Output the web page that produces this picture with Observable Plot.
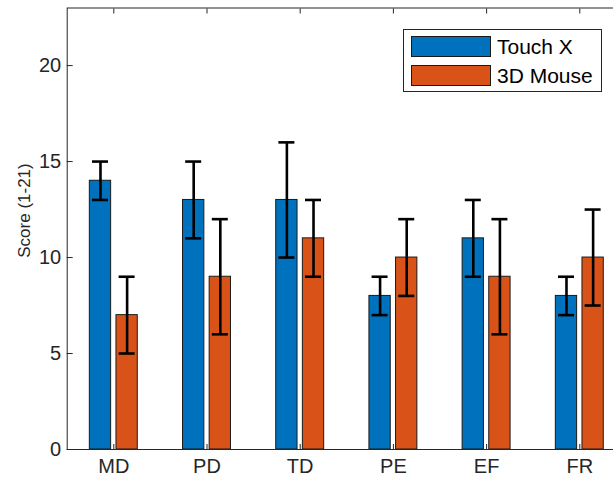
<!DOCTYPE html>
<html>
<head>
<meta charset="utf-8">
<script src="https://cdn.jsdelivr.net/npm/d3@7"></script>
<script src="https://cdn.jsdelivr.net/npm/@observablehq/plot@0.6"></script>
<style>
  body { margin: 0; background: white; }
  #wrap { position: relative; width: 613px; height: 480px; overflow: hidden; background: white; }
  #wrap svg { overflow: hidden; }
  .legend { position: absolute; left: 403px; top: 29px; width: 199px; height: 63px; border: 1px solid #262626; background: white; box-sizing: border-box; font-family: "Liberation Sans", Arial, sans-serif; font-size: 21px; color: #000; }
  .legend .row { position: absolute; left: 7px; height: 21px; display: flex; align-items: center; }
  .legend .sw { width: 80px; height: 21px; box-sizing: border-box; border: 1px solid #1a1a1a; margin-right: 6px; }
</style>
</head>
<body>
<div id="wrap"></div>
<script>
const categories = ["MD", "PD", "TD", "PE", "EF", "FR"];
const seriesNames = ["Touch X", "3D Mouse"];
const seriesColors = ["#0072BD", "#D95319"];
const touchX = [14, 13, 13, 8, 11, 8];
const touchXLow = [13, 11, 10, 7, 9, 7];
const touchXHigh = [15, 15, 16, 9, 13, 9];
const mouse3D = [7, 9, 11, 10, 9, 10];
const mouse3DLow = [5, 6, 9, 8, 6, 7.5];
const mouse3DHigh = [9, 12, 13, 12, 12, 12.5];
const yTicks = [0, 5, 10, 15, 20];
const yLabel = "Score (1-21)";

const groupOffset = [-0.1429, 0.1429];
const barHalf = 0.1143;

const rows = [];
categories.forEach((c, i) => {
  [[touchX, touchXLow, touchXHigh], [mouse3D, mouse3DLow, mouse3DHigh]].forEach((s, k) => {
    const xc = i + 1 + groupOffset[k];
    rows.push({cat: c, series: seriesNames[k], xc, x1: xc - barHalf, x2: xc + barHalf,
      value: s[0][i], low: s[1][i], high: s[2][i], color: seriesColors[k]});
  });
});

const font = '"Liberation Sans", Arial, sans-serif';
const chart = Plot.plot({
  width: 613,
  height: 480,
  marginLeft: 66.7,
  marginRight: -12.9,
  marginTop: 7.5,
  marginBottom: 31,
  style: {fontFamily: font, fontSize: "20px", color: "#262626", background: "white"},
  x: {domain: [0.5, 6.5]},
  y: {domain: [0, 23]},
  marks: [
    Plot.rect(rows, {x1: "x1", x2: "x2", y1: 0, y2: "value", fill: "color", stroke: "#1a1a1a", strokeWidth: 1}),
    Plot.ruleX(rows, {x: "xc", y1: "low", y2: "high", stroke: "#000", strokeWidth: 2.6}),
    Plot.ruleY(rows, {y: "low", x1: "xc", x2: "xc", insetLeft: -8, insetRight: -8, stroke: "#000", strokeWidth: 2.6}),
    Plot.ruleY(rows, {y: "high", x1: "xc", x2: "xc", insetLeft: -8, insetRight: -8, stroke: "#000", strokeWidth: 2.6}),
    Plot.frame({stroke: "#262626", strokeWidth: 1}),
    Plot.axisY(yTicks, {anchor: "left", tickSize: -6, text: null, stroke: "#262626"}),
    Plot.axisY(yTicks, {anchor: "left", tickSize: 0, tickPadding: 6, label: null, fill: "#262626", fontSize: 20}),
    Plot.axisX([1, 2, 3, 4, 5, 6], {anchor: "bottom", tickSize: -5, text: null, stroke: "#262626"}),
    Plot.axisX([1, 2, 3, 4, 5, 6], {anchor: "top", tickSize: -5, text: null, label: null, stroke: "#262626"}),
    Plot.axisX([1, 2, 3, 4, 5, 6], {anchor: "bottom", tickSize: 0, tickPadding: 9, label: null, tickFormat: d => categories[d - 1], fill: "#262626", fontSize: 20}),
    Plot.text([yLabel], {x: 0.5, y: 12.45, dx: -43, rotate: -90, fontSize: 17, fill: "#262626", text: d => d})
  ]
});
const wrap = document.getElementById("wrap");
wrap.appendChild(chart);

const legend = document.createElement("div");
legend.className = "legend";
seriesNames.forEach((n, k) => {
  const r = document.createElement("div");
  r.className = "row";
  r.style.top = (k === 0 ? 6 : 35) + "px";
  const sw = document.createElement("div");
  sw.className = "sw";
  sw.style.background = seriesColors[k];
  r.appendChild(sw);
  const t = document.createElement("span");
  t.textContent = n;
  r.appendChild(t);
  legend.appendChild(r);
});
wrap.appendChild(legend);
</script>
</body>
</html>
